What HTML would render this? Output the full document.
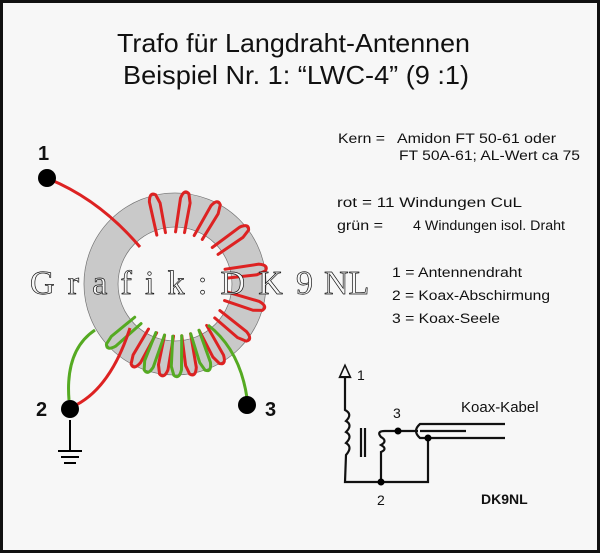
<!DOCTYPE html>
<html><head><meta charset="utf-8"><style>
html,body{margin:0;padding:0;background:#f7f7f7}
svg{display:block}
.s{font-family:"Liberation Sans",sans-serif}
.w{font-family:"Liberation Serif",serif}
</style></head><body>
<svg width="600" height="553" viewBox="0 0 600 553" xmlns="http://www.w3.org/2000/svg">
<rect x="1.5" y="1.5" width="597" height="550" fill="#f7f7f7" stroke="#111" stroke-width="3"/>
<g class="s" fill="#111">
<text x="117" y="52" font-size="26" textLength="353" lengthAdjust="spacingAndGlyphs">Trafo für Langdraht-Antennen</text>
<text x="123" y="84" font-size="26" textLength="346" lengthAdjust="spacingAndGlyphs">Beispiel Nr. 1: “LWC-4” (9 :1)</text>
</g>

<g class="s" font-size="13.5" fill="#111">
<text x="338" y="143" textLength="47" lengthAdjust="spacingAndGlyphs">Kern =</text>
<text x="397" y="143" textLength="159" lengthAdjust="spacingAndGlyphs">Amidon FT 50-61 oder</text>
<text x="399" y="160" textLength="181" lengthAdjust="spacingAndGlyphs">FT 50A-61; AL-Wert ca 75</text>
<text x="337" y="207" textLength="20" lengthAdjust="spacingAndGlyphs">rot</text>
<text x="362" y="207" textLength="160" lengthAdjust="spacingAndGlyphs">= 11 Windungen CuL</text>
<text x="337" y="230" textLength="46" lengthAdjust="spacingAndGlyphs">grün =</text>
<text x="413" y="230" textLength="152" lengthAdjust="spacingAndGlyphs">4 Windungen isol. Draht</text>
<text x="392" y="277" textLength="130" lengthAdjust="spacingAndGlyphs">1 = Antennendraht</text>
<text x="392" y="300" textLength="158" lengthAdjust="spacingAndGlyphs">2 = Koax-Abschirmung</text>
<text x="392" y="323" textLength="108" lengthAdjust="spacingAndGlyphs">3 = Koax-Seele</text>
</g>

<circle cx="175" cy="284" r="74" fill="none" stroke="#c9c9c9" stroke-width="33"/>
<circle cx="175" cy="284" r="91" fill="none" stroke="#777" stroke-width="0.8"/>
<circle cx="175" cy="284" r="57" fill="none" stroke="#777" stroke-width="0.8"/>

<defs>
<path id="w" d="M171 232 L173 198 Q176 188 181 193 L183 202 L180 232" fill="none" stroke-width="3" stroke-linecap="round"/>
</defs>
<g stroke="#dd2222">
<use href="#w" transform="rotate(-16 175 284)"/>
<use href="#w" transform="rotate(5 175 284)"/>
<use href="#w" transform="rotate(26 175 284)"/>
<use href="#w" transform="rotate(50 175 284)"/>
<use href="#w" transform="rotate(78 175 284)"/>
<use href="#w" transform="rotate(103 175 284)"/>
<use href="#w" transform="rotate(125 175 284)"/>
<use href="#w" transform="rotate(147 175 284)"/>
<use href="#w" transform="rotate(167 175 284)"/>
<use href="#w" transform="rotate(186 175 284)"/>
<use href="#w" transform="rotate(205 175 284)"/>
</g>
<g stroke="#55aa22">
<use href="#w" transform="rotate(157 175 284)"/>
<use href="#w" transform="rotate(177 175 284)"/>
<use href="#w" transform="rotate(196 175 284)"/>
<use href="#w" transform="rotate(225 175 284)"/>
</g>
<path d="M49 179 Q100 200 140 247" fill="none" stroke="#dd2222" stroke-width="3"/>
<path d="M72 407 Q110 390 130 328" fill="none" stroke="#dd2222" stroke-width="3"/>
<path d="M69 400 Q65 350 95 330" fill="none" stroke="#55aa22" stroke-width="3"/>
<path d="M247 398 Q240 350 208 325" fill="none" stroke="#55aa22" stroke-width="3"/>

<circle cx="47" cy="178" r="9" fill="#000"/>
<circle cx="70" cy="409" r="9" fill="#000"/>
<circle cx="247" cy="405" r="9" fill="#000"/>
<g class="s" font-size="20" font-weight="bold" fill="#111">
<text x="38" y="160">1</text>
<text x="36" y="416">2</text>
<text x="265" y="416">3</text>
</g>
<g stroke="#000" stroke-width="2">
<line x1="70" y1="420" x2="70" y2="451"/>
<line x1="58" y1="451" x2="82" y2="451"/>
<line x1="61" y1="457" x2="79" y2="457"/>
<line x1="64" y1="463" x2="76" y2="463"/>
</g>

<g class="w" font-size="34" fill="#f7f7f7" stroke="#111" stroke-width="0.7">
<text x="30" y="294" textLength="283" lengthAdjust="spacing">Grafik:DK9</text>
<text x="324" y="294">NL</text>
</g>

<g stroke="#111" stroke-width="2.2" fill="none">
<path d="M345 377 L345 410 Q353 414 346 421 Q353 425 346 432 Q353 436 346 443 Q353 447 346 455 L345 482 L428 482 L428 438"/>
<polygon points="345,366 340,377 350,377"/>
<line x1="361" y1="428" x2="361" y2="457"/>
<line x1="365" y1="428" x2="365" y2="457"/>
<path d="M418 431 L385 431 Q376 431 381 437 Q388 441 381 445 Q388 449 381 452 L381 482"/>
<path d="M505 424 L420 424 Q412 431 420 438 L505 438"/>
<line x1="420" y1="431" x2="466" y2="431"/>
</g>
<polygon points="345,367 341,376 349,376" fill="#f7f7f7"/>
<g fill="#000">
<circle cx="398" cy="431" r="3.5"/>
<circle cx="428" cy="438" r="3.5"/>
<circle cx="381" cy="482" r="3.5"/>
</g>
<g class="s" font-size="14" fill="#111">
<text x="357" y="380">1</text>
<text x="393" y="418">3</text>
<text x="377" y="505">2</text>
<text x="461" y="412" font-size="15">Koax-Kabel</text>
<text x="481" y="504" font-weight="bold">DK9NL</text>
</g>
</svg>
</body></html>
